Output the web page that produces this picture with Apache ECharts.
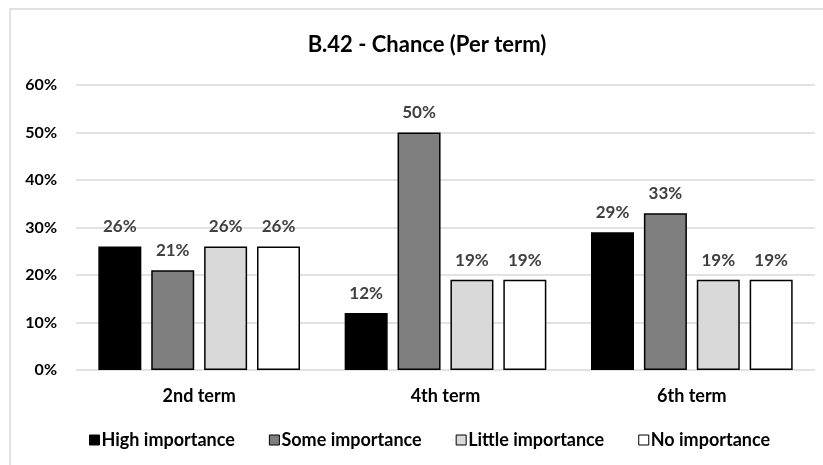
<!DOCTYPE html>
<html>
<head>
<meta charset="utf-8">
<script src="https://cdn.jsdelivr.net/npm/echarts@6/dist/echarts.min.js"></script>
<style>
html,body{margin:0;padding:0;background:#fff;}
#chart{width:823px;height:465px;}
</style>
</head>
<body>
<div id="chart"></div>
<script>
var categories = ['2nd term', '4th term', '6th term'];
var seriesNames = ['High importance', 'Some importance', 'Little importance', 'No importance'];
var highImportance = [26, 12, 29];
var someImportance = [21, 50, 33];
var littleImportance = [26, 19, 19];
var noImportance = [26, 19, 19];
var yTicks = [0, 10, 20, 30, 40, 50, 60];

var seriesData = [highImportance, someImportance, littleImportance, noImportance];
var colors = ['#000000', '#7f7f7f', '#d9d9d9', '#ffffff'];
var FONT = 'Lato';

var chart = echarts.init(document.getElementById('chart'));
chart.setOption({
  animation: false,
  backgroundColor: '#ffffff',
  graphic: [{
    type: 'rect',
    shape: { x: 10, y: 9, width: 830, height: 470 },
    style: { fill: 'none', stroke: '#d9d9d9', lineWidth: 1.5 },
    silent: true, z: -1
  }],
  title: {
    text: 'B.42 - Chance (Per term)',
    left: 422, top: 29, textAlign: 'center',
    textStyle: { fontFamily: FONT, fontWeight: 'bold', fontSize: 22, color: '#000' }
  },
  legend: {
    data: seriesNames,
    top: 426,
    left: 84,
    itemWidth: 10, itemHeight: 10, itemGap: 34,
    icon: 'rect',
    textStyle: { fontFamily: FONT, fontWeight: 'bold', fontSize: 18, color: '#000', padding: [0, 0, 0, -3] },
    itemStyle: { borderColor: '#000', borderWidth: 1 }
  },
  grid: { left: 76, right: 8, top: 85, bottom: 95 },
  xAxis: {
    type: 'category',
    data: categories,
    axisLine: { show: false },
    axisTick: { show: false },
    axisLabel: { fontFamily: FONT, fontWeight: 'bold', fontSize: 18, color: '#000', margin: 17 }
  },
  yAxis: {
    type: 'value',
    min: yTicks[0], max: yTicks[yTicks.length - 1], interval: 10,
    axisLine: { show: false },
    axisTick: { show: false },
    splitLine: { lineStyle: { color: '#d9d9d9', width: 1.5 } },
    axisLabel: { fontFamily: FONT, fontWeight: 'bold', fontSize: 16, color: '#000', margin: 19, formatter: '{value}%' }
  },
  series: seriesNames.map(function (name, i) {
    return {
      name: name,
      type: 'bar',
      data: seriesData[i],
      barWidth: 43,
      barGap: '23%',
      itemStyle: { color: colors[i], borderColor: '#000', borderWidth: 1.5 },
      label: {
        show: true, position: 'top', distance: 11,
        formatter: '{c}%',
        fontFamily: FONT, fontWeight: 'bold', fontSize: 17, color: '#404040'
      }
    };
  })
});
</script>
</body>
</html>
